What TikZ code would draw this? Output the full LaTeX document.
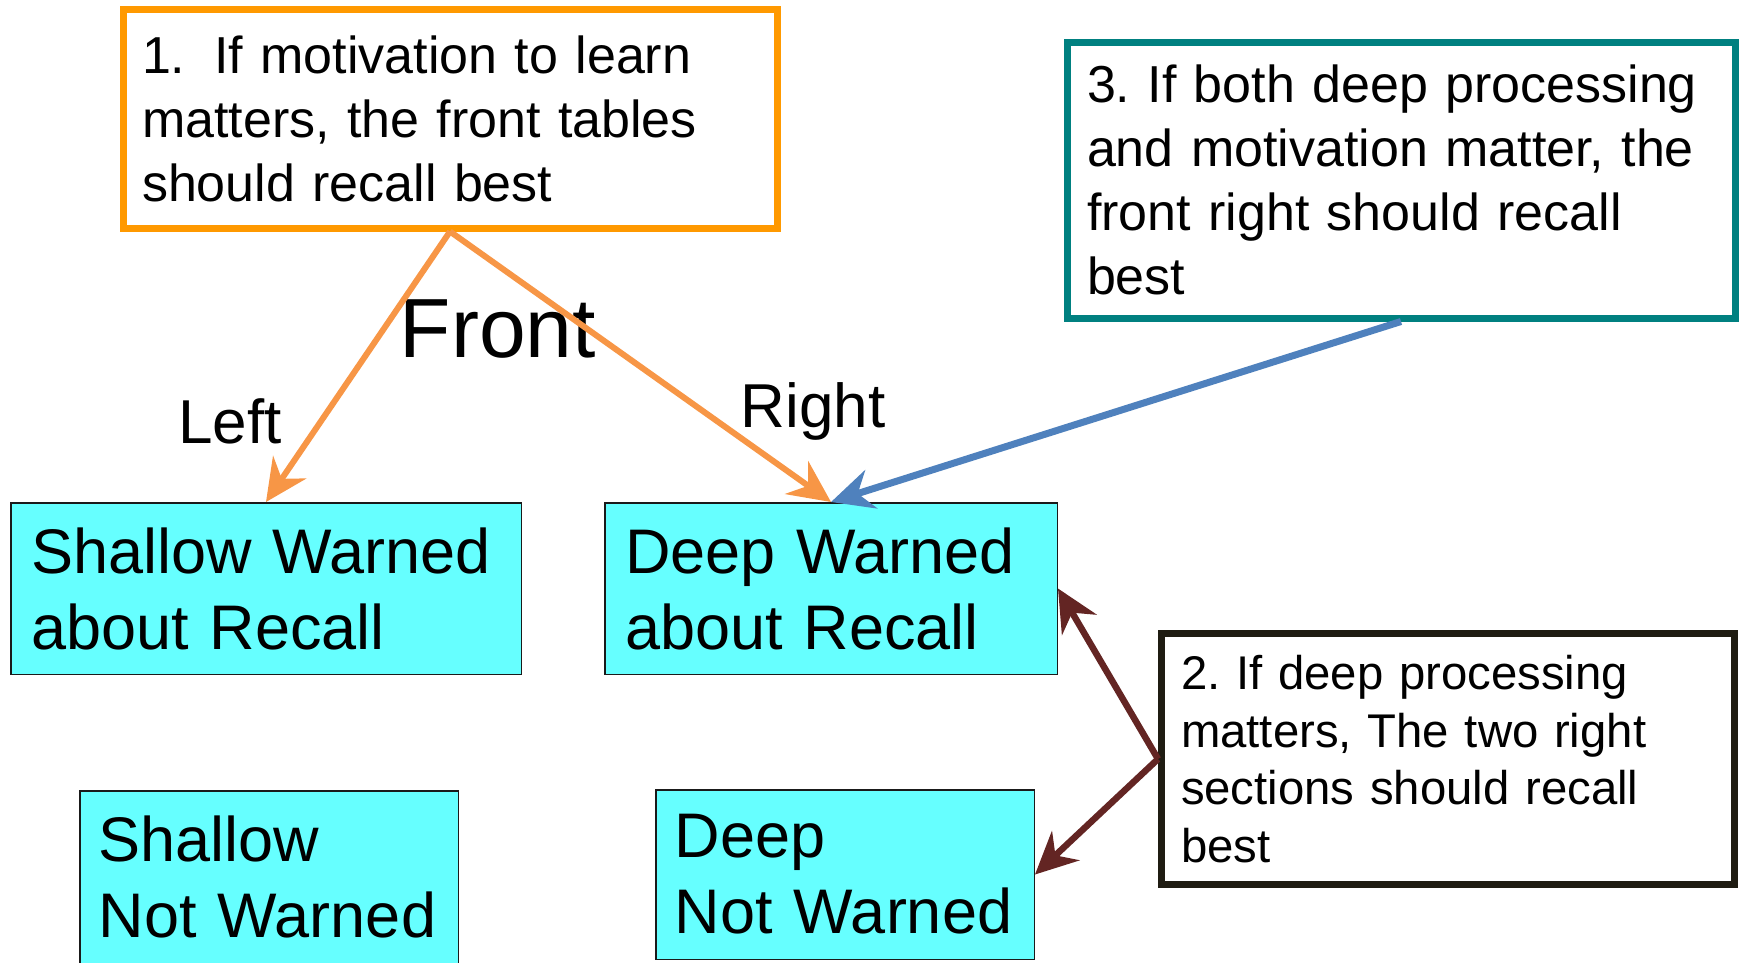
\documentclass[tikz,border=0pt]{standalone}
\usepackage{fontspec}
\setmainfont{Liberation Sans}
\usetikzlibrary{arrows.meta}
\definecolor{cyanfill}{HTML}{66FFFF}
\definecolor{cyanedge}{HTML}{1A1A1A}
\definecolor{orangeedge}{HTML}{FF9900}
\definecolor{orangearrow}{HTML}{F79646}
\definecolor{tealedge}{HTML}{008080}
\definecolor{bluearrow}{HTML}{4F81BD}
\definecolor{redarrow}{HTML}{632523}
\definecolor{darkedge}{HTML}{1F1C12}
\frenchspacing
\tikzset{
  cyanbox/.style={rectangle, draw=cyanedge, line width=1.5pt, fill=cyanfill,
    inner ysep=0pt, inner xsep=19pt, align=left,
    font=\frenchspacing\fontsize{63}{76}\selectfont},
  notebox/.style={rectangle, fill=white, line width=7pt, inner ysep=0pt, align=left},
  lbl/.style={anchor=base, inner sep=0pt},
  arr/.style={-{Stealth[length=42pt,width=40pt,inset=14pt]}}
}
\begin{document}
\begin{tikzpicture}[x=1pt,y=-1pt]
\useasboundingbox (0,0) rectangle (1744,962);

% note boxes
\node[notebox, draw=orangeedge, minimum width=654pt, minimum height=219pt,
  text width=616pt, inner xsep=19pt, font=\frenchspacing\fontsize{52}{64}\selectfont]
  (n1) at (450,118.5) {1.\hspace{29pt}If motivation to learn\\matters, the front tables\\should recall best};

\node[notebox, draw=tealedge, minimum width=668pt, minimum height=276pt,
  text width=628pt, inner xsep=20pt, font=\frenchspacing\fontsize{52}{64}\selectfont]
  (n3) at (1401,180) {3. If both deep processing\\and motivation matter, the\\front right should recall\\best};

\node[notebox, draw=darkedge, minimum width=573pt, minimum height=251pt,
  text width=534pt, inner xsep=19.5pt, font=\frenchspacing\fontsize{47.3}{57.5}\selectfont]
  (n2) at (1448,759) {2. If deep processing\\matters, The two right\\sections should recall\\best};

% cyan boxes
\node[cyanbox, minimum width=510.5pt, minimum height=171.5pt, text width=470pt, inner xsep=20.25pt]
  (sw) at (266,588.5) {Shallow~Warned\\about~Recall};
\node[cyanbox, minimum width=452.5pt, minimum height=171.5pt, text width=412pt, inner xsep=20.25pt]
  (dw) at (831,588.5) {Deep~Warned\\about~Recall};
\node[cyanbox, minimum width=378.5pt, minimum height=172.5pt, text width=340.5pt]
  (snw) at (269,877) {Shallow\\Not~Warned};
\node[cyanbox, minimum width=378.5pt, minimum height=169.5pt, text width=340.5pt]
  (dnw) at (845,874.5) {Deep\\Not~Warned};

% labels
\node[lbl, font=\fontsize{84}{100}\selectfont] (front) at (498,357) {Front};
\node[lbl, font=\fontsize{62}{74}\selectfont] (left) at (230,443) {Left};
\node[lbl, font=\fontsize{62}{74}\selectfont] (right) at (813,427) {Right};

% arrows
\draw[arr, orangearrow, line width=6pt] (n1.south) -- (sw.north);
\draw[arr, orangearrow, line width=6pt] (n1.south) -- (dw.north);
\draw[arr, bluearrow, line width=7pt] (n3.south) -- (dw.north);
\draw[arr, redarrow, line width=6.5pt] (n2.west) -- (dw.east);
\draw[arr, redarrow, line width=6.5pt] (n2.west) -- (dnw.east);
\end{tikzpicture}
\end{document}
